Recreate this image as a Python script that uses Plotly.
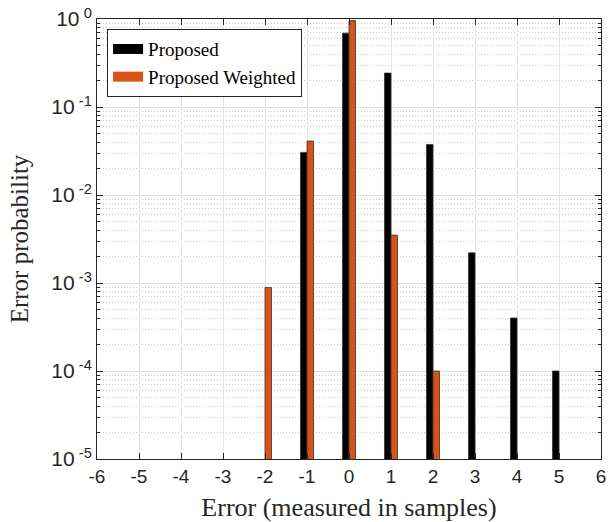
import plotly.graph_objects as go

errors = [-2, -1, 0, 1, 2, 3, 4, 5]
proposed = [None, 0.0305, 0.69, 0.243, 0.0374, 0.0022, 0.0004, 0.0001]
weighted = [0.00089, 0.041, 0.96, 0.0035, 0.0001, None, None, None]
series_names = ["Proposed", "Proposed Weighted"]
series_colors = ["#000000", "#D95319"]

ytick_vals = [1e-5, 1e-4, 1e-3, 1e-2, 1e-1, 1e0]
ytick_text = ["10<sup> -5</sup>", "10<sup> -4</sup>", "10<sup> -3</sup>",
              "10<sup> -2</sup>", "10<sup> -1</sup>", "10<sup> 0</sup>"]
xtick_vals = list(range(-6, 7))

serif = "Liberation Serif, DejaVu Serif, serif"
sans = "Liberation Sans, Arial, sans-serif"

fig = go.Figure()
for name, color, vals in zip(series_names, series_colors, [proposed, weighted]):
    fig.add_trace(go.Bar(x=errors, y=vals, name=name, legendgroup=name, showlegend=False,
                         marker=dict(color=color, line=dict(color="#333333", width=0.8))))
# legend entries drawn as wide swatches
for name, color in zip(series_names, series_colors):
    fig.add_trace(go.Scatter(x=[None], y=[None], mode="lines", name=name, legendgroup=name,
                             line=dict(color=color, width=18)))

axis_common = dict(showline=True, linecolor="#262626", linewidth=1, mirror="ticks",
                   ticks="inside", tickcolor="#262626", ticklen=6,
                   zeroline=False, automargin=False)

fig.update_layout(
    width=608, height=522,
    margin=dict(l=97, r=7, t=19, b=63),
    plot_bgcolor="white", paper_bgcolor="white",
    barmode="group", bargap=0.69, bargroupgap=0.0,
    showlegend=True,
    legend=dict(x=0.02, y=0.977, xanchor="left", yanchor="top",
                bgcolor="white", bordercolor="#262626", borderwidth=1,
                font=dict(family=serif, size=19, color="black"),
                tracegroupgap=0, itemwidth=30),
    xaxis=dict(range=[-6, 6], tickvals=xtick_vals, ticktext=[str(v) for v in xtick_vals],
               showgrid=True, gridcolor="#e2e2e2", gridwidth=1,
               tickfont=dict(family=sans, size=19, color="#262626"),
               title=dict(text="Error (measured in samples)",
                          font=dict(family=serif, size=26, color="#262626")),
               **axis_common),
    yaxis=dict(type="log", range=[-5, 0], tickvals=ytick_vals, ticktext=ytick_text,
               showgrid=True, gridcolor="#e2e2e2", gridwidth=1,
               tickfont=dict(family=sans, size=21, color="#262626"),
               minor=dict(ticks="inside", ticklen=3, tickcolor="#262626",
                          showgrid=True, gridcolor="#c4c4c4", griddash="1px,2px", gridwidth=1,
                          dtick="D1"),
               title=dict(text="Error probability",
                          font=dict(family=serif, size=25, color="#262626")),
               **axis_common),
)

fig.write_html("out.html")
